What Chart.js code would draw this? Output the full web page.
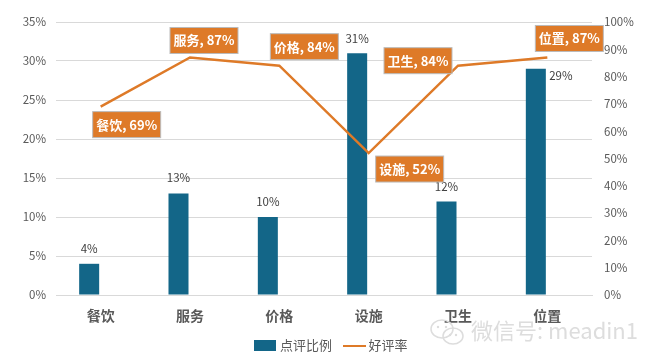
<!DOCTYPE html>
<html>
<head>
<meta charset="utf-8">
<style>
    html, body { margin: 0; padding: 0; background: #fff; }
    canvas { display: block; }
</style>
<script src="https://cdn.jsdelivr.net/npm/chart.js@4"></script>
</head>
<body>
<canvas id="chart" width="665" height="364"></canvas>
<script>
// Chart data
const categories = ['餐饮', '服务', '价格', '设施', '卫生', '位置'];
const reviewShare = [0.04, 0.13, 0.10, 0.31, 0.12, 0.29];
const goodRate = [0.69, 0.87, 0.84, 0.52, 0.84, 0.87];
const leftTickMax = 0.35;
const rightTickMax = 1;

// Label placement, relative to the mark
const shareLabelOffset = [[0, -15], [0, -16], [0, -15], [0, -15], [0, -15], [25, 7]];
const rateLabelOffset = [[26, 18], [14, -17], [25, -19], [41, 16], [-40, -5], [22, -19]];

const FONT = '"Noto Sans CJK SC", "Noto Sans", sans-serif';
const BLUE = '#136688';
const ORANGE = '#DE7A28';
const pct = (v) => Math.round(v * 100) + '%';

// Small legend swatches
function swatch(w, h, color) {
    const c = document.createElement('canvas');
    c.width = w;
    c.height = h;
    const g = c.getContext('2d');
    g.fillStyle = color;
    g.fillRect(0, 0, w, h);
    return c;
}

// Value labels on the bars and the boxed labels on the line
const dataLabels = {
    id: 'dataLabels',
    afterDatasetsDraw(chart) {
        const { ctx } = chart;
        ctx.save();
        ctx.textAlign = 'center';
        ctx.textBaseline = 'middle';

        ctx.font = '11.5px ' + FONT;
        ctx.fillStyle = '#404040';
        chart.getDatasetMeta(0).data.forEach((bar, i) => {
            const [dx, dy] = shareLabelOffset[i];
            ctx.fillText(pct(reviewShare[i]), bar.x + dx, bar.y + dy);
        });

        ctx.font = 'bold 13px ' + FONT;
        chart.getDatasetMeta(2).data.forEach((pt, i) => {
            const [dx, dy] = rateLabelOffset[i];
            const cx = pt.x + dx;
            const cy = pt.y + dy;
            ctx.fillStyle = ORANGE;
            ctx.strokeStyle = '#BBBBBB';
            ctx.lineWidth = 1;
            ctx.fillRect(cx - 34, cy - 13, 68, 26);
            ctx.strokeRect(cx - 34, cy - 13, 68, 26);
            ctx.fillStyle = '#fff';
            ctx.fillText(categories[i] + ', ' + pct(goodRate[i]), cx, cy);
        });
        ctx.restore();
    }
};

// WeChat watermark in the bottom right corner
const watermark = {
    id: 'watermark',
    afterDraw(chart) {
        const { ctx } = chart;
        ctx.save();
        ctx.strokeStyle = '#DDDDDD';
        ctx.fillStyle = '#DDDDDD';
        ctx.lineWidth = 1.5;
        ctx.beginPath();
        ctx.ellipse(442, 329, 11, 9, 0, 0, Math.PI * 2);
        ctx.stroke();
        ctx.beginPath();
        ctx.ellipse(453, 336, 10, 8, 0, 0, Math.PI * 2);
        ctx.stroke();
        [[438, 327], [446, 327], [450, 335], [456, 335]].forEach(([x, y]) => {
            ctx.beginPath();
            ctx.arc(x, y, 1.2, 0, Math.PI * 2);
            ctx.fill();
        });
        ctx.font = '22px ' + FONT;
        ctx.textAlign = 'left';
        ctx.textBaseline = 'middle';
        ctx.fillText('微信号: meadin1', 471, 331);
        ctx.restore();
    }
};

new Chart(document.getElementById('chart'), {
    data: {
        labels: categories,
        datasets: [
            { type: 'bar', label: '点评比例', data: reviewShare, backgroundColor: BLUE, yAxisID: 'y', order: 2, categoryPercentage: 0.515, barPercentage: 0.87 },
            // empty series, it keeps the bars left of the category centre
            { type: 'bar', label: '', data: [], yAxisID: 'y', order: 3, categoryPercentage: 0.515, barPercentage: 0.87 },
            { type: 'line', label: '好评率', data: goodRate, borderColor: ORANGE, borderWidth: 2.5, pointRadius: 0, tension: 0, yAxisID: 'y1', order: 1 }
        ]
    },
    options: {
        responsive: false,
        animation: false,
        layout: { padding: { top: 22, bottom: 2 } },
        plugins: {
            tooltip: { enabled: false },
            legend: {
                position: 'bottom',
                labels: {
                    usePointStyle: true,
                    pointStyleWidth: 16,
                    boxHeight: 11,
                    padding: 14,
                    color: '#595959',
                    font: { size: 13, family: FONT },
                    generateLabels: () => [
                        { text: '点评比例', pointStyle: swatch(22, 11, BLUE), datasetIndex: 0, fontColor: '#595959', lineWidth: 0 },
                        { text: '好评率', pointStyle: swatch(23, 2, ORANGE), datasetIndex: 2, fontColor: '#595959', lineWidth: 0 }
                    ]
                }
            }
        },
        scales: {
            x: {
                grid: { display: false },
                border: { color: '#D9D9D9' },
                ticks: { color: '#595959', font: { size: 14, weight: 'bold', family: FONT }, padding: 4, maxRotation: 0, minRotation: 0 },
                afterFit: (scale) => { scale.height = 30; }
            },
            y: {
                position: 'left',
                min: 0,
                max: leftTickMax,
                ticks: { stepSize: 0.05, callback: (v) => pct(v), color: '#595959', font: { size: 11.5, family: FONT }, padding: 10 },
                grid: { color: '#D9D9D9', drawTicks: false },
                border: { display: false },
                afterFit: (scale) => { scale.width = 56; }
            },
            y1: {
                position: 'right',
                min: 0,
                max: rightTickMax,
                ticks: { stepSize: 0.1, callback: (v) => pct(v), color: '#595959', font: { size: 11.5, family: FONT }, padding: 12 },
                grid: { display: false, drawTicks: false },
                border: { display: false },
                afterFit: (scale) => { scale.width = 73; }
            }
        }
    },
    plugins: [dataLabels, watermark]
});
</script>
</body>
</html>
